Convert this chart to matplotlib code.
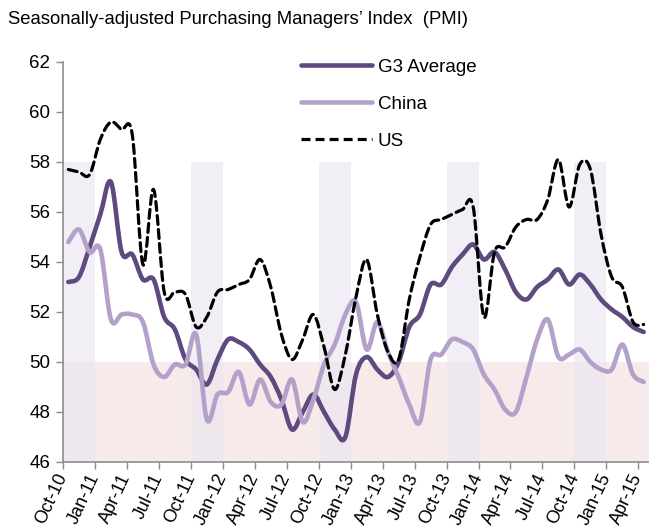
import numpy as np
import matplotlib
matplotlib.use("Agg")
import matplotlib.pyplot as plt
from matplotlib.path import Path
from matplotlib.patches import PathPatch
from matplotlib.lines import Line2D

plt.rcParams["font.family"] = ["Liberation Sans", "DejaVu Sans"]

# Monthly PMI readings, Oct-10 .. Apr-15
months = ["Oct-10", "Nov-10", "Dec-10",
          "Jan-11", "Feb-11", "Mar-11", "Apr-11", "May-11", "Jun-11",
          "Jul-11", "Aug-11", "Sep-11", "Oct-11", "Nov-11", "Dec-11",
          "Jan-12", "Feb-12", "Mar-12", "Apr-12", "May-12", "Jun-12",
          "Jul-12", "Aug-12", "Sep-12", "Oct-12", "Nov-12", "Dec-12",
          "Jan-13", "Feb-13", "Mar-13", "Apr-13", "May-13", "Jun-13",
          "Jul-13", "Aug-13", "Sep-13", "Oct-13", "Nov-13", "Dec-13",
          "Jan-14", "Feb-14", "Mar-14", "Apr-14", "May-14", "Jun-14",
          "Jul-14", "Aug-14", "Sep-14", "Oct-14", "Nov-14", "Dec-14",
          "Jan-15", "Feb-15", "Mar-15", "Apr-15"]

g3_average = [53.2, 53.4, 54.6, 55.9, 57.2, 54.4, 54.3, 53.3, 53.3, 51.8,
              51.3, 50.1, 49.7, 49.1, 50.1, 50.9, 50.8, 50.5, 49.9, 49.4,
              48.5, 47.3, 48.0, 48.7, 48.0, 47.3, 47.0, 49.5, 50.2, 49.7,
              49.4, 50.0, 51.4, 51.9, 53.1, 53.1, 53.8, 54.3, 54.7, 54.1,
              54.4, 53.7, 52.8, 52.5, 53.0, 53.3, 53.7, 53.1, 53.5, 53.1,
              52.5, 52.1, 51.8, 51.4, 51.2]

china = [54.8, 55.3, 54.4, 54.5, 51.7, 51.9, 51.9, 51.6, 49.9, 49.4,
         49.9, 49.9, 51.1, 47.7, 48.7, 48.8, 49.6, 48.3, 49.3, 48.4,
         48.3, 49.3, 47.6, 48.5, 49.9, 50.7, 51.9, 52.4, 50.5, 51.6,
         50.4, 49.4, 48.3, 47.6, 50.1, 50.3, 50.9, 50.8, 50.5, 49.5,
         48.9, 48.1, 48.0, 49.4, 50.9, 51.7, 50.2, 50.3, 50.5, 50.0,
         49.7, 49.7, 50.7, 49.5, 49.2]

us = [57.7, 57.6, 57.5, 58.9, 59.6, 59.3, 59.1, 53.9, 56.9, 52.8,
      52.8, 52.7, 51.4, 51.8, 52.8, 52.9, 53.1, 53.3, 54.1, 53.0,
      51.1, 50.1, 50.9, 51.9, 50.6, 48.9, 50.3, 52.6, 54.1, 51.9,
      50.4, 50.1, 52.5, 54.2, 55.5, 55.7, 55.9, 56.1, 56.2, 51.8,
      54.4, 54.6, 55.4, 55.7, 55.7, 56.5, 58.1, 56.2, 57.9, 57.7,
      55.1, 53.4, 53.0, 51.6, 51.5]

# Q4 of each year is shaded
q4_starts = ["Oct-10", "Oct-11", "Oct-12", "Oct-13", "Oct-14"]

G3_COLOR = "#5e4a7e"
CHINA_COLOR = "#b3a1c9"
US_COLOR = "black"


def smooth_path(x, y):
    """Catmull-Rom style cubic Bezier through every data point."""
    pts = np.column_stack([x, y]).astype(float)
    padded = np.vstack([pts[0], pts, pts[-1]])
    verts = [pts[0]]
    codes = [Path.MOVETO]
    for i in range(len(pts) - 1):
        p0, p1, p2, p3 = padded[i], padded[i + 1], padded[i + 2], padded[i + 3]
        c1 = p1 + (p2 - p0) / 6.0
        c2 = p2 - (p3 - p1) / 6.0
        verts += [c1, c2, p2]
        codes += [Path.CURVE4] * 3
    return Path(verts, codes)


fig = plt.figure(figsize=(6.49, 5.29), dpi=100)
ax = fig.add_axes([63 / 649, 1 - 462 / 529, 586 / 649, 400 / 529])

x = np.arange(len(months))

# background shading
ax.axhspan(46, 50, color="#f6eaea", zorder=0, lw=0)
for label in q4_starts:
    start = months.index(label) - 0.5
    ax.bar(start, 12, width=3, bottom=46, align="edge",
           color="#ebe6f0", alpha=0.65, lw=0, zorder=0.5)

series = [
    (g3_average, "G3 Average", G3_COLOR, 3.3, "-"),
    (china, "China", CHINA_COLOR, 3.3, "-"),
    (us, "US", US_COLOR, 2.3, (0, (2.8, 1.6))),
]

handles = []
for values, name, color, lw, ls in series:
    patch = PathPatch(smooth_path(x, values), facecolor="none", edgecolor=color,
                      lw=lw, linestyle=ls, capstyle="round", joinstyle="round",
                      zorder=3)
    ax.add_patch(patch)
    handles.append(Line2D([], [], color=color, lw=lw, linestyle=ls,
                          solid_capstyle="round", label=name))

ax.set_xlim(-0.5, len(months) - 0.5)
ax.set_ylim(46, 62)
ax.set_yticks(np.arange(46, 63, 2))

tick_idx = np.arange(0, len(months), 3)
ax.set_xticks(tick_idx - 0.5)
ax.set_xticklabels([months[i] for i in tick_idx], rotation=65, ha="right",
                   va="center", rotation_mode="anchor", fontsize=13)
ax.tick_params(axis="y", labelsize=13.5, length=5, width=1, color="#8c8c8c",
               direction="out", pad=4)
ax.tick_params(axis="x", length=5, width=1, color="#8c8c8c", direction="out",
               pad=4)

for side in ["top", "right"]:
    ax.spines[side].set_visible(False)
for side in ["left", "bottom"]:
    ax.spines[side].set_color("#8c8c8c")
    ax.spines[side].set_linewidth(1.2)

ax.legend(handles=handles, loc="upper left",
          bbox_to_anchor=(284 / 649, 1 - 42 / 529),
          bbox_transform=fig.transFigure, frameon=False, fontsize=13.5,
          handlelength=3.8, handletextpad=0.3, labelspacing=1.05)

fig.text(8 / 649, 1 - 20 / 529,
         "Seasonally-adjusted Purchasing Managers\u2019 Index  (PMI)",
         fontsize=13.3, va="center", ha="left")

fig.savefig("out.png", dpi=100)
